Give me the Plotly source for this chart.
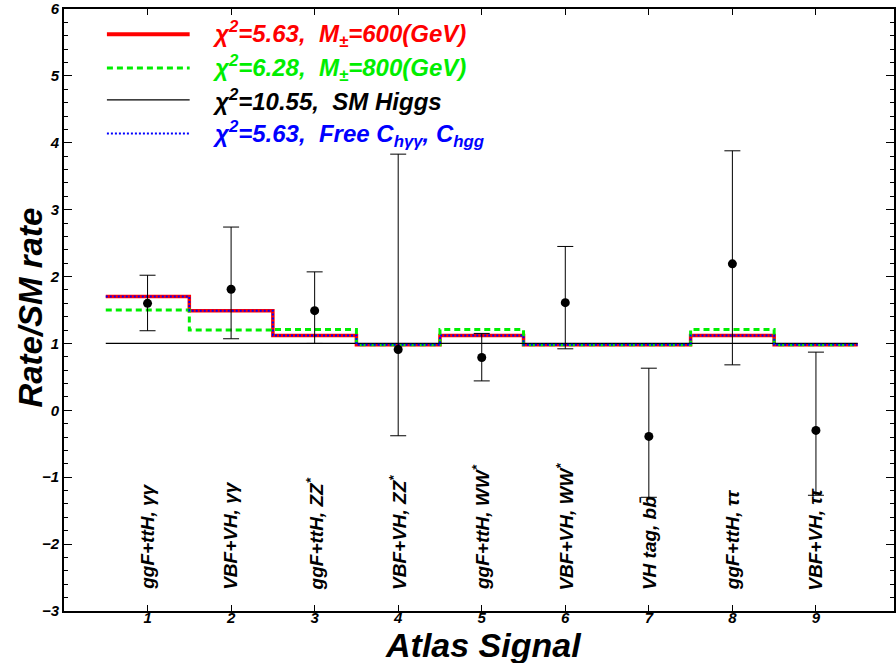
import plotly.graph_objects as go

# ---------------- data ----------------
bins = [1, 2, 3, 4, 5, 6, 7, 8, 9]
categories = [
    "ggF+ttH, γγ",
    "VBF+VH, γγ",
    "ggF+ttH, ZZ<sup>*</sup>",
    "VBF+VH, ZZ<sup>*</sup>",
    "ggF+ttH, WW<sup>*</sup>",
    "VBF+VH, WW<sup>*</sup>",
    "VH tag, bb̄",
    "ggF+ttH, ττ",
    "VBF+VH, ττ",
]
mu_obs = [1.60, 1.81, 1.49, 0.91, 0.79, 1.61, -0.39, 2.19, -0.30]
mu_high = [2.02, 2.74, 2.07, 3.83, 1.15, 2.45, 0.63, 3.88, 0.87]
mu_low = [1.19, 1.07, 1.00, -0.38, 0.44, 0.92, -1.30, 0.68, -1.27]

red_600 = [1.70, 1.49, 1.12, 0.98, 1.12, 0.98, 0.98, 1.12, 0.98]
green_800 = [1.50, 1.20, 1.21, 0.98, 1.21, 0.98, 0.98, 1.21, 0.98]
sm_higgs = [1.0, 1.0, 1.0, 1.0, 1.0, 1.0, 1.0, 1.0, 1.0]
blue_free = [1.70, 1.49, 1.12, 0.98, 1.12, 0.98, 0.98, 1.12, 0.98]

legend_texts = [
    "χ<sup>2</sup>=5.63,  M<sub>±</sub>=600(GeV)",
    "χ<sup>2</sup>=6.28,  M<sub>±</sub>=800(GeV)",
    "χ<sup>2</sup>=10.55,  SM Higgs",
    "χ<sup>2</sup>=5.63,  Free C<sub>hγγ</sub>, C<sub>hgg</sub>",
]

# ---------------- figure ----------------
FONT = "Liberation Sans"
W, H = 896, 663
ML, MR, MT, MB = 64, 0, 4, 52

edges = [b - 0.5 for b in bins] + [bins[-1] + 0.5]


def step(vals):
    return vals + [vals[-1]]


fig = go.Figure()

styles = [
    (red_600, dict(color="#ff0000", width=3.5)),
    (green_800, dict(color="#00ee00", width=3, dash="6px,4px")),
    (sm_higgs, dict(color="black", width=1.2)),
    (blue_free, dict(color="#0000ff", width=2, dash="2px,2px")),
]
for vals, ln in styles:
    fig.add_trace(go.Scatter(x=edges, y=step(vals), mode="lines",
                             line=dict(shape="hv", **ln), showlegend=False,
                             hoverinfo="skip"))

err_up = [h - m for h, m in zip(mu_high, mu_obs)]
err_dn = [m - l for m, l in zip(mu_obs, mu_low)]
fig.add_trace(go.Scatter(
    x=bins, y=mu_obs, mode="markers",
    marker=dict(color="black", size=9),
    error_y=dict(type="data", symmetric=False, array=err_up, arrayminus=err_dn,
                 color="black", thickness=1, width=8),
    showlegend=False))

# manual legend (ROOT style)
leg_y = [0.958, 0.902, 0.849, 0.793]
leg_colors = ["#ff0000", "#00ee00", "black", "#0000ff"]
for (vals, ln), yy, txt, col in zip(styles, leg_y, legend_texts, leg_colors):
    fig.add_shape(type="line", xref="paper", yref="paper",
                  x0=0.0517, x1=0.1514, y0=yy, y1=yy,
                  line=dict(color=ln["color"], width=ln["width"] + (0.5 if ln["color"] == "#ff0000" else 0),
                            dash=ln.get("dash", "solid")))
    fig.add_annotation(xref="paper", yref="paper", x=0.1755, y=yy,
                       xanchor="left", yanchor="middle", showarrow=False,
                       text=txt,
                       font=dict(family=FONT, size=24, color=col,
                                 weight="bold", style="italic"))

# category labels
for b, c in zip(bins, categories):
    fig.add_annotation(x=b, y=-2.72, xref="x", yref="y", text=c,
                       textangle=-90, xanchor="center", yanchor="bottom",
                       showarrow=False,
                       font=dict(family=FONT, size=19, color="black",
                                 weight="bold", style="italic"))

# axis titles
fig.add_annotation(xref="paper", yref="paper", x=(485 - ML) / (W - ML - MR),
                   y=-(645 - (H - MB)) / (H - MT - MB), xanchor="center",
                   yanchor="middle", showarrow=False, text="Atlas Signal",
                   font=dict(family=FONT, size=34, color="black",
                             weight="bold", style="italic"))
fig.add_annotation(xref="paper", yref="paper", x=-(ML - 30) / (W - ML - MR),
                   y=(H - MB - 305) / (H - MT - MB), xanchor="center",
                   yanchor="middle", showarrow=False, text="Rate/SM rate",
                   textangle=-90,
                   font=dict(family=FONT, size=33, color="black",
                             weight="bold", style="italic"))

tickfont = dict(family=FONT, size=15, color="black", weight="bold", style="italic")
fig.update_xaxes(range=[0, (W - ML - MR) / 83.75], tickmode="array",
                 tickvals=bins, ticktext=[str(b) for b in bins],
                 ticks="inside", ticklen=6, tickwidth=1, tickcolor="black",
                 showline=True, linecolor="black", linewidth=2, mirror="ticks",
                 showgrid=False, zeroline=False, tickfont=tickfont,
                 ticklabeloverflow="allow", ticklabelstandoff=-8)
fig.update_yaxes(range=[-3, 6], dtick=1, ticks="inside", ticklen=8,
                 tickwidth=1, tickcolor="black",
                 minor=dict(dtick=0.2, ticks="inside", ticklen=4,
                            tickcolor="black", showgrid=False),
                 showline=True, linecolor="black", linewidth=2, mirror="ticks",
                 showgrid=False, zeroline=False, tickfont=tickfont,
                 ticklabeloverflow="allow")

fig.update_layout(width=W, height=H,
                  margin=dict(l=ML, r=MR, t=MT, b=MB),
                  plot_bgcolor="white", paper_bgcolor="white",
                  showlegend=False)

fig.write_html("out.html", config={"displayModeBar": False},
               post_script="document.body.style.margin='0';"
                           "document.body.style.overflow='hidden';")
